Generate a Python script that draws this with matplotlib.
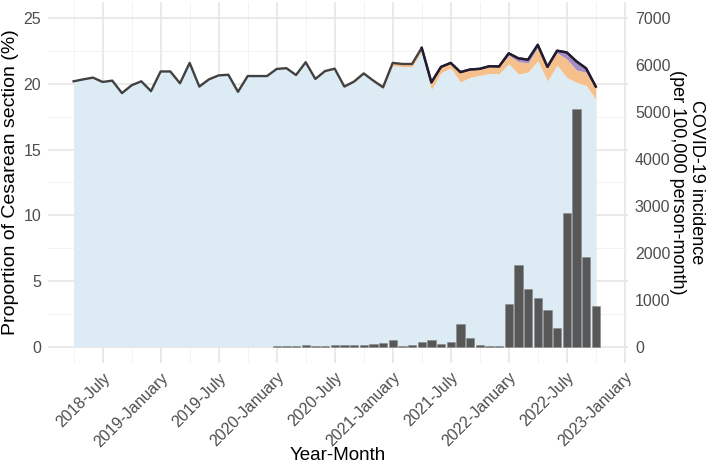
import numpy as np
import matplotlib
matplotlib.use("Agg")
import matplotlib.pyplot as plt

plt.rcParams["font.family"] = ["Liberation Sans", "DejaVu Sans"]

# monthly series, 2018-April .. 2022-October
cs_total = [20.2, 20.35, 20.48, 20.15, 20.25, 19.3, 19.9, 20.2, 19.45, 20.95,
            20.95, 20.05, 21.6, 19.8, 20.35, 20.65, 20.7, 19.4, 20.6, 20.6,
            20.6, 21.14, 21.2, 20.68, 21.65, 20.38, 20.98, 21.16, 19.8, 20.18,
            20.8, 20.25, 19.75, 21.6, 21.52, 21.52, 22.75, 20.12, 21.3, 21.6,
            20.9, 21.1, 21.15, 21.35, 21.33, 22.33, 21.95, 21.85, 22.98, 21.3,
            22.53, 22.4, 21.72, 21.19, 19.8]
orange_band = [0] * 27 + [0.03, 0.05, 0.05, 0.08, 0.1, 0.12, 0.2, 0.2, 0.22,
                          0.25, 0.55, 0.45, 0.38, 0.75, 0.6, 0.5, 0.55, 0.55,
                          0.65, 0.95, 0.7, 1.0, 1.0, 0.95, 1.4, 0.95, 1.0, 0.85]
purple_band = [0] * 45 + [0.15, 0.25, 0.25, 0.2, 0.08, 0.15, 0.5, 0.65, 0.3, 0.1]
incidence = [0] * 21 + [8, 8, 8, 25, 10, 10, 25, 35, 25, 30, 60, 80, 135, 20,
                        25, 100, 130, 45, 100, 475, 175, 25, 12, 12, 900, 1735,
                        1220, 1030, 790, 400, 2840, 5060, 1915, 865]

tick_pos = [3, 9, 15, 21, 27, 33, 39, 45, 51, 57]
tick_labels = ["2018-July", "2019-January", "2019-July", "2020-January",
               "2020-July", "2021-January", "2021-July", "2022-January",
               "2022-July", "2023-January"]

SCALE = 280  # incidence per 1 % on the left axis

x = np.arange(len(cs_total))
total = np.array(cs_total)
orange = np.array(orange_band)
purple = np.array(purple_band)
blue = total - orange - purple
inc = np.array(incidence, dtype=float)
has_inc = inc > 0

fig = plt.figure(figsize=(7.09, 4.63), dpi=100)
ax = fig.add_axes([0.0677, 0.216, 0.818, 0.78])

ax.fill_between(x, 0, blue, color="#dcebf4", lw=0, zorder=1)
ax.fill_between(x, blue, blue + orange, color="#f5c08c", lw=0, zorder=1)
ax.fill_between(x, blue + orange, total, color="#a58dc6", lw=0, zorder=1)
ax.bar(x[has_inc], inc[has_inc] / SCALE, width=0.86, color="#575757",
       edgecolor="#8a8a8a", linewidth=0.4, zorder=2)
ax.plot(x, total, color="#414141", lw=1.7, zorder=3)
ax.plot(x[36:], total[36:], color="#221a30", lw=1.7, zorder=3)

ax.set_xlim(-2.65, 57.33)
ax.set_ylim(-1.25, 26.25)
ax.set_yticks([0, 5, 10, 15, 20, 25])
ax.set_yticks([2.5, 7.5, 12.5, 17.5, 22.5], minor=True)
ax.set_xticks(tick_pos)
ax.set_xticks(list(range(0, 57, 6)), minor=True)
ax.set_xticklabels(tick_labels, rotation=45, ha="right", va="top",
                   rotation_mode="anchor", fontsize=11.5, color="#4d4d4d")
ax.tick_params(axis="y", labelsize=11.5, labelcolor="#4d4d4d", pad=5)
ax.tick_params(which="both", length=0)
ax.tick_params(axis="x", pad=5)
ax.grid(which="major", color="#e4e4e4", lw=1.1, zorder=0)
ax.grid(which="minor", color="#f1f1f1", lw=0.6, zorder=0)
ax.set_axisbelow(True)
for s in ax.spines.values():
    s.set_visible(False)

ax.set_xlabel("Year-Month", fontsize=13.5, va="baseline")
ax.xaxis.set_label_coords(0.5, -0.27)
ax.set_ylabel("Proportion of Cesarean section (%)", fontsize=14, va="center")
ax.yaxis.set_label_coords(-0.064, 0.5)

ax2 = ax.twinx()
ax2.set_ylim(-1.25 * SCALE, 26.25 * SCALE)
ax2.set_yticks(range(0, 7001, 1000))
ax2.tick_params(length=0, labelsize=11.5, labelcolor="#4d4d4d", pad=5)
for s in ax2.spines.values():
    s.set_visible(False)
ax2.set_ylabel("COVID-19 incidence\n(per 100,000 person-month)", rotation=270,
               fontsize=13, linespacing=1.2, va="center", ha="center")
ax2.yaxis.set_label_coords(1.102, 0.5)

fig.savefig("out.png", dpi=100)
